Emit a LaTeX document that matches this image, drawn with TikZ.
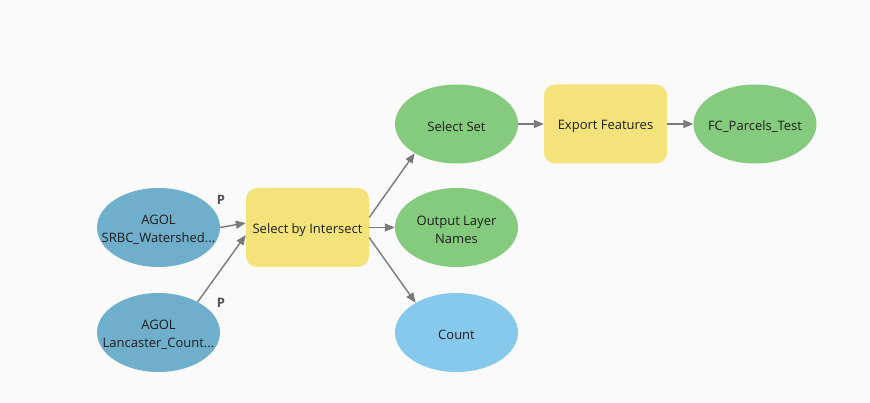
\documentclass[tikz,border=0pt]{standalone}
\usepackage{fontspec}
\setmainfont{Open Sans}
\usetikzlibrary{shapes.geometric,arrows.meta,calc}
\definecolor{bg}{HTML}{FAFAFA}
\definecolor{inblue}{HTML}{6FAFCB}
\definecolor{outgreen}{HTML}{84CB7D}
\definecolor{tool}{HTML}{F4E27A}
\definecolor{cntblue}{HTML}{87C9EC}
\definecolor{arr}{HTML}{7A7A7A}
\definecolor{txt}{HTML}{1E1E1E}
\definecolor{plab}{HTML}{505050}
\tikzset{
  lbl/.style={align=center,text=txt,inner sep=0pt,font=\fontsize{13}{18.5}\selectfont,yshift=-2.5pt},
  base/.style={minimum width=123pt,minimum height=79pt,inner sep=0pt},
  inputnode/.style={base,ellipse,fill=inblue},
  outnode/.style={base,ellipse,fill=outgreen},
  cntnode/.style={base,ellipse,fill=cntblue},
  toolnode/.style={base,rectangle,rounded corners=11pt,fill=tool},
  conn/.style={draw=arr,line width=1.4pt,-{Triangle[length=10pt,width=8pt]}},
  plabel/.style={font=\fontsize{13}{14}\selectfont\bfseries,text=plab,inner sep=0pt}
}
\begin{document}
\begin{tikzpicture}[x=1pt,y=-1pt]
\fill[bg] (0,0) rectangle (870,403);
\useasboundingbox (0,0) rectangle (870,403);
\node[inputnode,label={[lbl]center:AGOL\\SRBC\_Watershed...}] (srbc) at (158.5,227.5) {};
\node[inputnode,label={[lbl]center:AGOL\\Lancaster\_Count...}] (lanc) at (158.5,332.5) {};
\node[toolnode,label={[lbl]center:Select by Intersect}] (sbi) at (307.5,227.5) {};
\node[outnode,label={[lbl]center:Select Set}] (sset) at (456.5,124) {};
\node[toolnode,label={[lbl]center:Export Features}] (exp) at (605.5,124) {};
\node[outnode,label={[lbl]center:FC\_Parcels\_Test}] (fc) at (755,124) {};
\node[outnode,label={[lbl]center:Output Layer\\Names}] (oln) at (456.5,227.5) {};
\node[cntnode,label={[lbl]center:Count}] (cnt) at (456.5,332.5) {};
\node[plabel] (p1) at (221,200) {P};
\node[plabel] (p2) at (221,303) {P};
\coordinate (sbiin1) at ($(sbi.west)+(0,-4.5)$);
\coordinate (sbiin2) at ($(sbi.west)+(0,7.5)$);
\coordinate (sbiout1) at ($(sbi.east)+(0,-10)$);
\coordinate (sbiout3) at ($(sbi.east)+(0,10)$);
\draw[conn] (srbc.east) -- (sbiin1);
\draw[conn] (lanc.38) -- (sbiin2);
\draw[conn] (sbiout1) -- (sset.215);
\draw[conn] (sbi.east) -- (oln.west);
\draw[conn] (sbiout3) -- (cnt.144);
\draw[conn] (sset.east) -- (exp.west);
\draw[conn] (exp.east) -- (fc.west);
\end{tikzpicture}
\end{document}
